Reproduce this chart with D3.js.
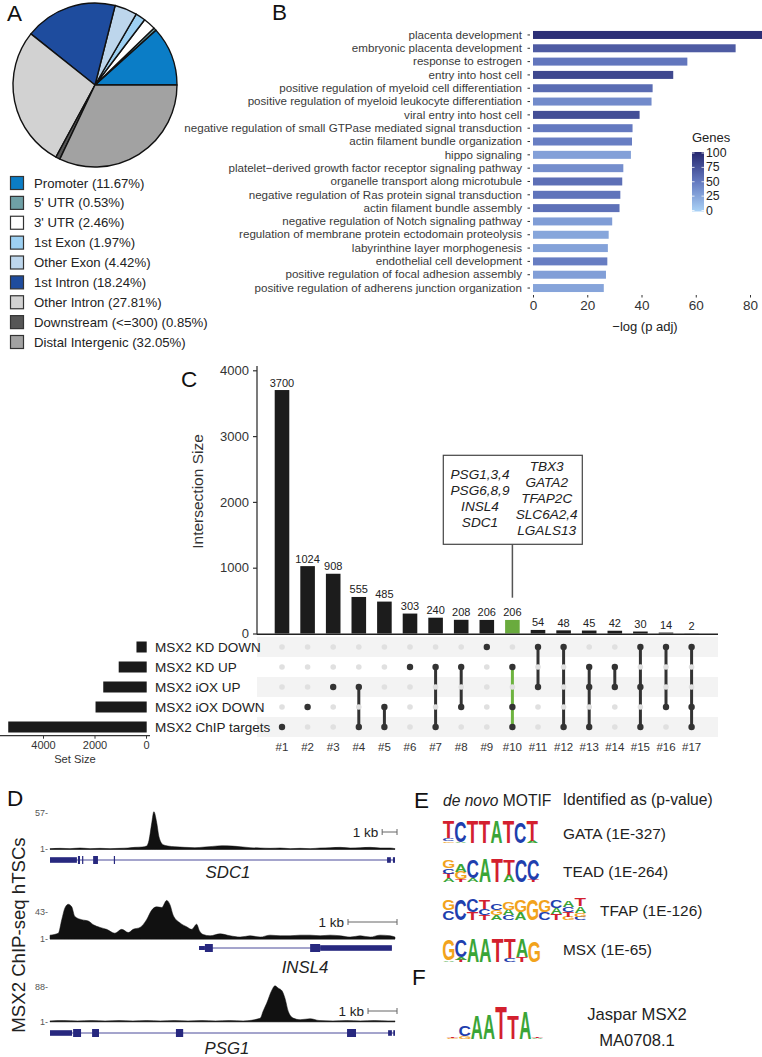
<!DOCTYPE html>
<html><head><meta charset="utf-8">
<script src="https://cdn.jsdelivr.net/npm/d3@7/dist/d3.min.js"></script>
<style>
html,body{margin:0;padding:0;background:#fff;}
svg{display:block;}
svg text{font-family:"Liberation Sans",Arial,Helvetica,sans-serif;}
</style></head><body>
<svg id="fig" width="762" height="1057" viewBox="0 0 762 1057"></svg>
<script>
// ================= DATA =================
// Panel A
const pieCategories = ["Promoter","5' UTR","3' UTR","1st Exon","Other Exon","1st Intron","Other Intron","Downstream (<=300)","Distal Intergenic"];
const piePercents = [11.67,0.53,2.46,1.97,4.42,18.24,27.81,0.85,32.05];
const pieColors = ["#0b7dc6","#6fa0a6","#ffffff","#9dd0f2","#bdd6ec","#1e4c9e","#d2d2d2","#565656","#a2a2a2"];

// Panel B
const goTerms = ["placenta development","embryonic placenta development","response to estrogen","entry into host cell",
 "positive regulation of myeloid cell differentiation","positive regulation of myeloid leukocyte differentiation",
 "viral entry into host cell","negative regulation of small GTPase mediated signal transduction",
 "actin filament bundle organization","hippo signaling","platelet\u2212derived growth factor receptor signaling pathway",
 "organelle transport along microtubule","negative regulation of Ras protein signal transduction",
 "actin filament bundle assembly","negative regulation of Notch signaling pathway",
 "regulation of membrane protein ectodomain proteolysis","labyrinthine layer morphogenesis",
 "endothelial cell development","positive regulation of focal adhesion assembly",
 "positive regulation of adherens junction organization"];
const goValues = [85,74.7,56.9,51.7,44.1,43.7,39.3,36.7,36.5,36.1,33.3,32.9,32.2,31.9,29.2,27.9,27.6,27.4,26.9,26.1];
const goGenes = [95,68,52,80,58,40,76,50,47,28,38,56,53,55,30,25,27,48,29,26];
const goTicks = [0,20,40,60,80];
const genesTicks = [0,25,50,75,100];

// Panel C
const setNames = ["MSX2 KD DOWN","MSX2 KD UP","MSX2 iOX UP","MSX2 iOX DOWN","MSX2 ChIP targets"];
const setSizes = [370,1060,1660,1960,5350];
const setSizeTicks = [0,2000,4000];
const intersectionLabels = ["#1","#2","#3","#4","#5","#6","#7","#8","#9","#10","#11","#12","#13","#14","#15","#16","#17"];
const intersectionSizes = [3700,1024,908,555,485,303,240,208,206,206,54,48,45,42,30,14,2];
const intersectionSets = [[4],[3],[2],[2,4],[3,4],[1],[1,4],[1,3],[0],[1,3,4],[0,2],[0,4],[1,2,4],[1,2],[0,2,4],[0,3],[0,3,4]];
const intersectionTicks = [0,1000,2000,3000,4000];
const highlightIntersection = "#10";
const calloutLeft = ["PSG1,3,4","PSG6,8,9","INSL4","SDC1"];
const calloutRight = ["TBX3","GATA2","TFAP2C","SLC6A2,4","LGALS13"];

// Panel D (position in track units 0-100, signal value)
const trackGenes = ["SDC1","INSL4","PSG1"];
const trackMax = [57,43,88];
const sdc1Signal = [[0,2],[2.9,2.5],[5.8,2],[8.7,3],[11.6,2],[14.5,2.5],[17.4,2],[20.3,2.5],[22.6,3],[24.6,4],[26.7,4.5],[28,6],[28.7,15],[29.5,42],[30.1,59],[30.9,43],[31.6,20],[32.8,8],[34.2,6],[36.2,5],[39.1,4],[42,3.5],[44.9,4.5],[47.2,5.5],[49.9,6.5],[52.8,6],[55.1,5],[58,3.5],[60.9,3],[63.8,2.5],[66.7,3],[69.6,2],[72.5,2.5],[75.4,2],[78.3,3],[81.2,3.5],[84.1,4],[87,3],[89.9,3.5],[92.8,4],[95.7,3],[98.6,3],[100,2]];
const insl4Signal = [[0,7],[2.4,10],[3.4,31],[4.3,49],[5.3,55],[6.3,51],[7.2,36],[9.2,31],[11.1,29],[12.6,23],[14.5,19],[16.4,16],[18.8,10],[20.8,16],[22.7,11],[24.1,16],[26.1,19],[28,31],[29.5,46],[30.9,51],[32.4,50],[33.8,61],[34.8,54],[35.7,38],[37.7,26],[39.6,20],[41.1,16],[42.5,24],[43.3,14],[44.4,8],[46.4,6],[49.3,9],[52.2,6],[55.1,4],[58,6],[60.9,4],[63.8,7],[66.7,6],[69.6,6],[72.5,7],[75.4,7],[78.3,6],[81.2,7],[84.1,6],[87,4],[89.9,6],[92.8,4],[95.7,7],[98.6,6],[100,4]];
const psg1Signal = [[0,3],[4,4],[8,3],[12,4],[16,3],[20,4],[24,3],[28,4],[32,3],[36,4],[40,3],[44,4],[48,3],[52,4],[56,3],[60.9,9.5],[61.8,28],[62.8,47],[64.3,80],[65.2,91],[66.2,85],[67.2,79],[68.1,60],[69.1,26],[70.5,10],[72.5,6],[75.4,8.5],[78,4],[82,3],[86,4],[90,3],[94,4],[98,3],[100,3]];
const geneSpans = [[0,100],[43.2,99.1],[0,100]];
const sdc1Exons = [[0,7.8,"utr"],[8.1,8.7,"cds"],[9.3,9.6,"cds"],[12.5,13.9,"cds"],[18.5,18.8,"cds"],[97.7,98.8,"utr"],[99.4,100,"utr"]];
const insl4Exons = [[43.2,44.9,"nc"],[44.9,47.2,"cds"],[75.4,78.3,"cds"],[78.3,99.1,"utr"]];
const psg1Exons = [[0,6.4,"utr"],[6.7,9,"cds"],[12.2,14.2,"cds"],[36.5,38.6,"cds"],[86.1,88.7,"cds"],[98,99.1,"utr"],[99.5,100,"utr"]];
const kbUnits = [4.3,14.2,8.4];

// Panel E/F motifs: columns bottom->top [base, fraction of height]
const motifLabels = ["GATA (1E-327)","TEAD (1E-264)","TFAP (1E-126)","MSX (1E-65)"];
const motifGATA = [[["G",0.07],["C",0.13],["T",0.75]],[["A",0.05],["C",0.9]],[["T",0.95]],[["T",0.95]],[["A",0.95]],[["T",0.95]],[["C",0.93]],[["A",0.08],["T",0.87]]];
const motifTEAD = [[["A",0.15],["T",0.2],["C",0.22],["G",0.3]],[["T",0.12],["G",0.3],["A",0.33]],[["A",0.15],["C",0.75]],[["A",0.95]],[["T",0.95]],[["A",0.3],["T",0.62]],[["C",0.92]],[["T",0.08],["C",0.87]]];
const motifTFAP = [[["C",0.42],["G",0.45]],[["C",0.92]],[["T",0.35],["C",0.55]],[["T",0.2],["C",0.3],["T",0.4]],[["A",0.2],["G",0.25],["C",0.3]],[["C",0.2],["A",0.25],["G",0.35]],[["A",0.35],["G",0.5]],[["G",0.9]],[["C",0.35],["G",0.5]],[["T",0.25],["A",0.25],["C",0.35]],[["G",0.15],["T",0.2],["C",0.2],["A",0.3]],[["C",0.15],["G",0.15],["A",0.3],["T",0.35]]];
const motifMSX = [[["A",0.05],["G",0.9]],[["T",0.1],["A",0.1],["C",0.7]],[["A",0.95]],[["A",0.95]],[["T",0.95]],[["C",0.15],["T",0.8]],[["T",0.2],["A",0.75]],[["G",0.9]]];
const motifJaspar = [[["G",0.03],["T",0.04]],[["G",0.08],["C",0.3]],[["A",0.68]],[["A",0.74]],[["T",0.94]],[["T",0.68]],[["A",0.78]],[["A",0.03],["T",0.03]]];
const jasparLabel = ["Jaspar MSX2","MA0708.1"];

// ================= DRAW =================
const svg = d3.select("#fig");
svg.append("rect").attr("width",762).attr("height",1057).attr("fill","#fff");
const ink = "#222";
const plain = d3.format("d");

// panel letters
const panelLetters = [["A",7,13],["B",272,12.5],["C",181,379],["D",7,798],["E",414,800],["F",412,977]];
svg.selectAll("text.panel").data(panelLetters).join("text").attr("class","panel")
  .attr("x",d=>d[1]).attr("y",d=>d[2]).attr("dominant-baseline","central")
  .style("font-size","22.5px").attr("fill","#111").text(d=>d[0]);

// ---------- Panel A ----------
const gA = svg.append("g").attr("transform","translate(95,85)");
const pie = d3.pie().sort(null).value(d=>d).startAngle(Math.PI/2).endAngle(Math.PI/2-2*Math.PI);
const arc = d3.arc().innerRadius(0).outerRadius(82);
gA.selectAll("path").data(pie(piePercents)).join("path").attr("d",arc)
  .attr("fill",(d,i)=>pieColors[i]).attr("stroke","#111").attr("stroke-width",1.4).attr("stroke-linejoin","round");
const legY = d3.scalePoint().domain(pieCategories).range([183,342]);
const gL = svg.append("g");
gL.selectAll("rect").data(pieCategories).join("rect")
  .attr("x",10.5).attr("y",d=>legY(d)-6.5).attr("width",13).attr("height",13)
  .attr("fill",(d,i)=>pieColors[i]).attr("stroke","#333").attr("stroke-width",1.2);
gL.selectAll("text").data(pieCategories).join("text")
  .attr("x",34).attr("y",d=>legY(d)).attr("dominant-baseline","central")
  .style("font-size","13.2px").attr("fill",ink)
  .text((d,i)=>`${d} (${piePercents[i].toFixed(2)}%)`);

// ---------- Panel B ----------
const xB = d3.scaleLinear().domain([0,80]).range([533,750]);
const yB = d3.scaleBand().domain(goTerms).range([28.3,294.7]).paddingInner(0.4).paddingOuter(0.2);
const colB = d3.scaleLinear().domain([0,50,100]).range(["#aad2f6","#6479c0","#26276f"]);
const gB = svg.append("g");
gB.selectAll("rect").data(goTerms).join("rect")
  .attr("x",xB(0)).attr("y",d=>yB(d)).attr("height",yB.bandwidth())
  .attr("width",(d,i)=>xB(goValues[i])-xB(0)).attr("fill",(d,i)=>colB(goGenes[i]));
const axYB = gB.append("g").attr("transform","translate(530,0)")
  .call(d3.axisLeft(yB).tickSize(2.5).tickPadding(5.5));
axYB.select(".domain").remove();
axYB.selectAll("line").attr("stroke","#333");
axYB.selectAll("text").style("font-size","11.6px").attr("fill","#3a3a3a").style("font-family",'"Liberation Sans",Arial,sans-serif');
const axXB = gB.append("g").attr("transform","translate(0,295)")
  .call(d3.axisBottom(xB).tickValues(goTicks).tickSize(2.5).tickPadding(3).tickFormat(plain));
axXB.select(".domain").remove();
axXB.selectAll("line").attr("stroke","#333");
axXB.selectAll("text").style("font-size","13.5px").attr("fill","#333").style("font-family",'"Liberation Sans",Arial,sans-serif');
gB.append("text").attr("x",645).attr("y",326).attr("text-anchor","middle").attr("dominant-baseline","central")
  .style("font-size","13px").attr("fill","#222").text("\u2212log (p adj)");
// colorbar
const defs = svg.append("defs");
const grad = defs.append("linearGradient").attr("id","gbar").attr("x1",0).attr("y1",1).attr("x2",0).attr("y2",0);
grad.selectAll("stop").data(d3.range(0,101,10)).join("stop")
  .attr("offset",d=>d/100).attr("stop-color",d=>colB(d));
const yC = d3.scaleLinear().domain([0,100]).range([210.5,153]);
gB.append("rect").attr("x",692).attr("y",yC(100)-1).attr("width",12).attr("height",yC(0)-yC(100)+2).attr("fill","url(#gbar)");
gB.selectAll("line.cbt").data(genesTicks).join("line").attr("class","cbt")
  .attr("x1",692).attr("x2",694.5).attr("y1",d=>yC(d)).attr("y2",d=>yC(d)).attr("stroke","#fff").attr("stroke-width",0.8);
gB.selectAll("line.cbt2").data(genesTicks).join("line").attr("class","cbt2")
  .attr("x1",701.5).attr("x2",704).attr("y1",d=>yC(d)).attr("y2",d=>yC(d)).attr("stroke","#fff").attr("stroke-width",0.8);
gB.selectAll("text.cbl").data(genesTicks).join("text").attr("class","cbl")
  .attr("x",706).attr("y",d=>yC(d)).attr("dominant-baseline","central")
  .style("font-size","12.3px").attr("fill","#222").text(d=>d);
gB.append("text").attr("x",692).attr("y",137.5).attr("dominant-baseline","central")
  .style("font-size","13px").attr("fill","#222").text("Genes");

// ---------- Panel C ----------
const xU = d3.scaleBand().domain(intersectionLabels).range([269.2,704.4]).paddingInner(0.43).paddingOuter(0.215);
const yU = d3.scaleLinear().domain([0,4000]).range([633.5,370.3]);
const rowY = d3.scalePoint().domain(setNames).range([647,727]);
const xS = d3.scaleLinear().domain([0,4000]).range([146,43]);
const gC = svg.append("g");
// stripes
gC.selectAll("rect.stripe").data(setNames.filter((d,i)=>i%2===0)).join("rect").attr("class","stripe")
  .attr("x",257).attr("width",718-257).attr("y",d=>rowY(d)-10).attr("height",20).attr("fill","#f3f3f3");
// bars
gC.selectAll("rect.ibar").data(intersectionLabels).join("rect").attr("class","ibar")
  .attr("x",d=>xU(d)).attr("width",xU.bandwidth())
  .attr("y",(d,i)=>yU(intersectionSizes[i])).attr("height",(d,i)=>yU(0)-yU(intersectionSizes[i]))
  .attr("fill",d=>d===highlightIntersection?"#6aab3e":"#1c1c1c");
gC.selectAll("text.ival").data(intersectionLabels).join("text").attr("class","ival")
  .attr("x",d=>xU(d)+xU.bandwidth()/2).attr("y",(d,i)=>yU(intersectionSizes[i])-3.5)
  .attr("text-anchor","middle").style("font-size","11px").attr("fill","#222")
  .text((d,i)=>intersectionSizes[i]);
const axYU = gC.append("g").attr("transform","translate(257,0)")
  .call(d3.axisLeft(yU).tickValues(intersectionTicks).tickSize(4).tickPadding(4).tickSizeOuter(0).tickFormat(plain));
axYU.select(".domain").remove();
axYU.selectAll("line").attr("stroke","#333").attr("stroke-width",1.2);
axYU.selectAll("text").style("font-size","13px").attr("fill","#333").style("font-family",'"Liberation Sans",Arial,sans-serif');
gC.append("line").attr("x1",257).attr("x2",257).attr("y1",366).attr("y2",634.5).attr("stroke","#333").attr("stroke-width",1.3);
gC.append("line").attr("x1",257).attr("x2",718).attr("y1",634.2).attr("y2",634.2).attr("stroke","#222").attr("stroke-width",1.6);
gC.append("text").attr("transform","translate(197,491.5) rotate(-90)").attr("text-anchor","middle")
  .attr("dominant-baseline","central").style("font-size","15.5px").attr("fill","#333").text("Intersection Size");
// callout
const cx10 = xU(highlightIntersection)+xU.bandwidth()/2;
gC.append("line").attr("x1",cx10).attr("x2",cx10).attr("y1",544.3).attr("y2",597.7).attr("stroke","#555").attr("stroke-width",1.5);
gC.append("rect").attr("x",443.3).attr("y",455.3).attr("width",139).attr("height",89).attr("fill","#fff").attr("stroke","#444").attr("stroke-width",1.2);
const lY = d3.scalePoint().domain(calloutLeft).range([474,522]);
const rY = d3.scalePoint().domain(calloutRight).range([466,530]);
gC.selectAll("text.cl").data(calloutLeft).join("text").attr("class","cl")
  .attr("x",480).attr("y",d=>lY(d)).attr("text-anchor","middle").attr("dominant-baseline","central")
  .style("font-size","13.6px").style("font-style","italic").attr("fill","#222").text(d=>d);
gC.selectAll("text.cr").data(calloutRight).join("text").attr("class","cr")
  .attr("x",546.7).attr("y",d=>rY(d)).attr("text-anchor","middle").attr("dominant-baseline","central")
  .style("font-size","13.6px").style("font-style","italic").attr("fill","#222").text(d=>d);
// matrix
const mG = gC.append("g");
intersectionLabels.forEach((lab,i)=>{
  const sets = intersectionSets[i];
  const cx = xU(lab)+xU.bandwidth()/2;
  const col = lab===highlightIntersection?"#6db33f":"#333";
  if(sets.length>1){
    const ys = sets.map(s=>rowY(setNames[s]));
    mG.append("line").attr("x1",cx).attr("x2",cx).attr("y1",d3.min(ys)).attr("y2",d3.max(ys))
      .attr("stroke",col).attr("stroke-width",3);
  }
  setNames.forEach((sn,j)=>{
    mG.append("circle").attr("cx",cx).attr("cy",rowY(sn)).attr("r",sets.includes(j)?3.2:2.8)
      .attr("fill",sets.includes(j)?"#333":"#e0e0e0");
  });
});
gC.selectAll("text.clab").data(intersectionLabels).join("text").attr("class","clab")
  .attr("x",d=>xU(d)+xU.bandwidth()/2).attr("y",746.7).attr("text-anchor","middle").attr("dominant-baseline","central")
  .style("font-size","11.5px").attr("fill","#333").text(d=>d);
// set names
gC.selectAll("text.sname").data(setNames).join("text").attr("class","sname")
  .attr("x",155).attr("y",d=>rowY(d)).attr("dominant-baseline","central")
  .style("font-size","13.5px").attr("fill","#222").text(d=>d);
// set size bars
gC.selectAll("rect.sbar").data(setNames).join("rect").attr("class","sbar")
  .attr("x",(d,i)=>xS(setSizes[i])).attr("width",(d,i)=>xS(0)-xS(setSizes[i])+0.7)
  .attr("y",d=>rowY(d)-5.5).attr("height",11).attr("fill","#1a1a1a");
gC.append("line").attr("x1",0).attr("x2",150).attr("y1",735.7).attr("y2",735.7).attr("stroke","#333").attr("stroke-width",1.3);
const axS = gC.append("g").attr("transform","translate(0,735.7)")
  .call(d3.axisBottom(xS).tickValues(setSizeTicks).tickSize(3).tickPadding(2.5).tickSizeOuter(0).tickFormat(plain));
axS.select(".domain").remove();
axS.selectAll("line").attr("stroke","#333");
axS.selectAll("text").style("font-size","11px").attr("fill","#333").style("font-family",'"Liberation Sans",Arial,sans-serif');
gC.append("text").attr("x",75).attr("y",759).attr("text-anchor","middle").attr("dominant-baseline","central")
  .style("font-size","11.2px").attr("fill","#333").text("Set Size");

// ---------- Panel D ----------
const xT = d3.scaleLinear().domain([0,100]).range([50,395]);
const trackBase = [849.3,939,1021.7];
const trackTop = [813,912,987];
const geneY = [860,948,1033];
const geneLabelX = [228,305,227];
const geneLabelY = [872,967,1048];
const kbY = [832,922,1011];
const signals = [sdc1Signal,insl4Signal,psg1Signal];
const exons = [sdc1Exons,insl4Exons,psg1Exons];
const gD = svg.append("g");
gD.append("text").attr("transform","translate(25,935) rotate(-90)").attr("text-anchor","middle")
  .style("font-size","18.6px").attr("fill","#222").text("MSX2 ChIP-seq hTSCs");
trackGenes.forEach((g,t)=>{
  const y = d3.scaleLinear().domain([1,trackMax[t]]).range([trackBase[t],trackTop[t]]);
  const area = d3.area().x(d=>xT(d[0])).y0(trackBase[t]).y1(d=>y(d[1])).curve(d3.curveMonotoneX);
  gD.append("line").attr("x1",xT(0)).attr("x2",xT(100)).attr("y1",trackBase[t]).attr("y2",trackBase[t]).attr("stroke","#333").attr("stroke-width",0.8);
  gD.append("path").datum(signals[t]).attr("d",area).attr("fill","#111").attr("stroke","#111").attr("stroke-width",0.5);
  gD.append("text").attr("x",48).attr("y",trackTop[t]).attr("text-anchor","end").attr("dominant-baseline","central")
    .style("font-size","9px").attr("fill","#555").text(trackMax[t]+"-");
  gD.append("text").attr("x",48).attr("y",trackBase[t]).attr("text-anchor","end").attr("dominant-baseline","central")
    .style("font-size","9px").attr("fill","#555").text("1-");
  // scale bar
  const kbEnd = xT(100)+2, kbStart = kbEnd - (xT(kbUnits[t])-xT(0));
  gD.append("line").attr("x1",kbStart).attr("x2",kbEnd).attr("y1",kbY[t]).attr("y2",kbY[t]).attr("stroke","#666").attr("stroke-width",1);
  [kbStart,kbEnd].forEach(xx=>gD.append("line").attr("x1",xx).attr("x2",xx).attr("y1",kbY[t]-3).attr("y2",kbY[t]+3).attr("stroke","#666").attr("stroke-width",1));
  gD.append("text").attr("x",kbStart-4).attr("y",kbY[t]).attr("text-anchor","end").attr("dominant-baseline","central")
    .style("font-size","13.5px").attr("fill","#222").text("1 kb");
  // gene model
  const sp = geneSpans[t];
  gD.append("line").attr("x1",xT(sp[0])).attr("x2",xT(sp[1])).attr("y1",geneY[t]).attr("y2",geneY[t]).attr("stroke","#4a4a9a").attr("stroke-width",1);
  gD.selectAll(null).data(exons[t]).join("rect")
    .attr("x",d=>xT(d[0])).attr("width",d=>Math.max(1.2,xT(d[1])-xT(d[0])))
    .attr("y",d=>geneY[t]-(d[2]==="cds"?4:d[2]==="utr"?2.8:2))
    .attr("height",d=>d[2]==="cds"?8:d[2]==="utr"?5.6:4).attr("fill","#27287f");
  gD.append("text").attr("x",geneLabelX[t]).attr("y",geneLabelY[t]).attr("text-anchor","middle").attr("dominant-baseline","central")
    .style("font-size","16.8px").style("font-style","italic").attr("fill","#222").text(g);
});

// ---------- Panel E / F ----------
const gE = svg.append("g");
const baseColor = {A:"#3aa537",C:"#1f3fae",G:"#f2a31c",T:"#d3202e"};
const cnv = document.createElement("canvas").getContext("2d");
cnv.font = 'bold 100px "Liberation Sans", Arial, sans-serif';
const gm = {};
["A","C","G","T"].forEach(b=>{const m=cnv.measureText(b);gm[b]={L:m.actualBoundingBoxLeft,R:m.actualBoundingBoxRight,asc:m.actualBoundingBoxAscent,desc:m.actualBoundingBoxDescent};});
function drawLogo(cols,x0,x1,yTop,yBot){
  const xc = d3.scaleBand().domain(d3.range(cols.length)).range([x0,x1]).paddingInner(0.06);
  const hs = d3.scaleLinear().domain([0,1]).range([0,yBot-yTop]);
  cols.forEach((col,i)=>{
    let yb = yBot;
    col.forEach(([b,f])=>{
      const h = hs(f), w = xc.bandwidth(), g = gm[b];
      const sx = w/(g.L+g.R), sy = h/(g.asc+g.desc);
      gE.append("text").attr("transform",`translate(${xc(i)},${yb}) scale(${sx},${sy}) translate(${g.L},${-g.desc})`)
        .style("font-size","100px").style("font-weight","bold").attr("fill",baseColor[b]).text(b);
      yb -= h;
    });
  });
}
const hdr = gE.append("text").attr("x",443).attr("y",799.5).attr("dominant-baseline","central").style("font-size","15.6px").attr("fill","#222");
hdr.append("tspan").style("font-style","italic").text("de novo");
hdr.append("tspan").text(" MOTIF");
gE.append("text").attr("x",562.7).attr("y",799.5).attr("dominant-baseline","central").style("font-size","15.6px").attr("fill","#222").text("Identified as (p-value)");
const motifCols = [motifGATA,motifTEAD,motifTFAP,motifMSX];
const motifBox = [[443,538,820,843],[443,539,858,882],[443,586,897,920],[443,540,938,962]];
const motifLabelPos = [[563,833.3],[563,871.7],[600,910.7],[563,949]];
motifCols.forEach((m,i)=>{
  drawLogo(m,...motifBox[i]);
  gE.append("text").attr("x",motifLabelPos[i][0]).attr("y",motifLabelPos[i][1]).attr("dominant-baseline","central")
    .style("font-size","15.4px").attr("fill","#222").text(motifLabels[i]);
});
drawLogo(motifJaspar,447,543,1005,1039);
gE.selectAll("text.jl").data(jasparLabel).join("text").attr("class","jl")
  .attr("x",637).attr("y",(d,i)=>i?1040:1014.3).attr("text-anchor","middle").attr("dominant-baseline","central")
  .style("font-size","16.6px").attr("fill","#222").text(d=>d);
</script></body></html>
